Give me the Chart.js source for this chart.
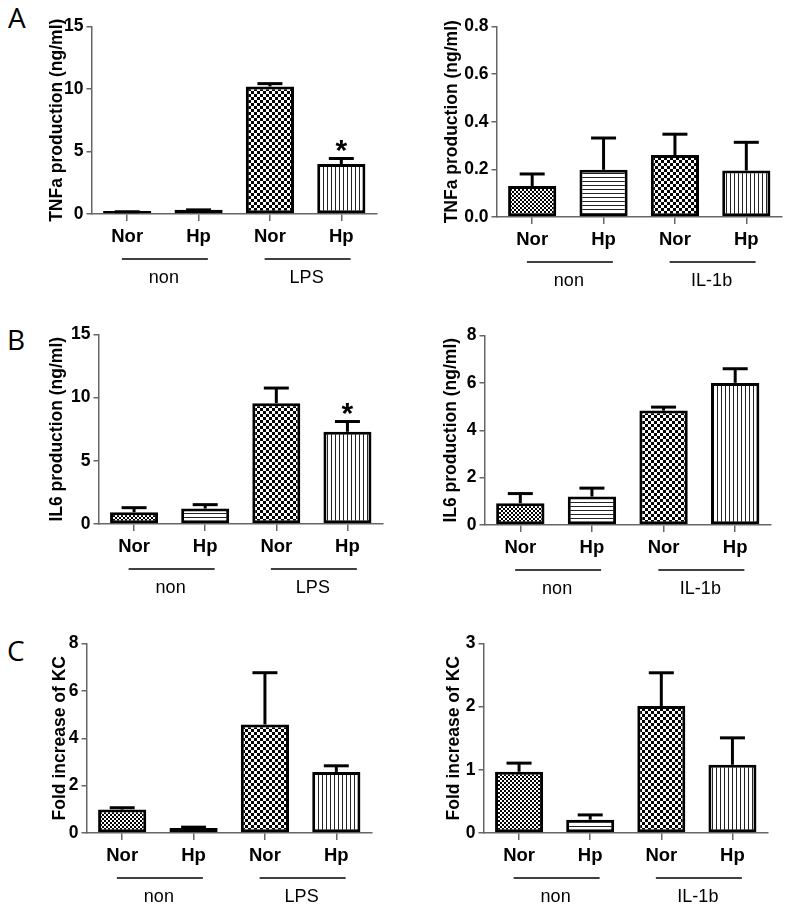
<!DOCTYPE html>
<html><head><meta charset="utf-8">
<script src="https://cdn.jsdelivr.net/npm/chart.js@4.4.0/dist/chart.umd.min.js"></script>
<style>
html,body{margin:0;padding:0;background:#fff}
body{width:788px;height:905px;position:relative;overflow:hidden}
.panel{position:absolute}
.panel canvas{display:block}
.letter{position:absolute;font-family:"Open Sans",sans-serif;font-size:28px;line-height:28px;color:#000}
</style></head><body>
<div class="letter" style="left:8px;top:3px">A</div>
<div class="letter" style="left:7px;top:325px">B</div>
<div class="letter" style="left:7px;top:636px">C</div>
<div class="panel" id="pA1"><canvas id="cA1"></canvas></div>
<div class="panel" id="pA2"><canvas id="cA2"></canvas></div>
<div class="panel" id="pB1"><canvas id="cB1"></canvas></div>
<div class="panel" id="pB2"><canvas id="cB2"></canvas></div>
<div class="panel" id="pC1"><canvas id="cC1"></canvas></div>
<div class="panel" id="pC2"><canvas id="cC2"></canvas></div>
<script>
// ---------- data ----------
const categories = ['Nor', 'Hp', 'Nor', 'Hp'];
const groupsLPS = ['non', 'LPS'];
const groupsIL1b = ['non', 'IL-1b'];

const tnfLpsMean  = [0.25, 0.35, 10.2, 4.0];
const tnfLpsSem   = [0.05, 0.1, 0.35, 0.56];
const tnfIl1bMean = [0.13, 0.198, 0.26, 0.195];
const tnfIl1bSem  = [0.057, 0.14, 0.094, 0.125];

const il6LpsMean  = [0.93, 1.22, 9.56, 7.3];
const il6LpsSem   = [0.48, 0.43, 1.32, 0.93];
const il6Il1bMean = [0.92, 1.2, 4.83, 6.0];
const il6Il1bSem  = [0.47, 0.42, 0.21, 0.66];

const kcLpsMean   = [0.99, 0.21, 4.58, 2.58];
const kcLpsSem    = [0.14, 0.1, 2.25, 0.32];
const kcIl1bMean  = [0.97, 0.21, 2.01, 1.08];
const kcIl1bSem   = [0.16, 0.1, 0.55, 0.45];

const tnfLpsTicks  = [0, 5, 10, 15];
const tnfIl1bTicks = [0, 0.2, 0.4, 0.6, 0.8];
const il6LpsTicks  = [0, 5, 10, 15];
const il6Il1bTicks = [0, 2, 4, 6, 8];
const kcLpsTicks   = [0, 2, 4, 6, 8];
const kcIl1bTicks  = [0, 1, 2, 3];

const titleTNF = 'TNFa production (ng/ml)';
const titleIL6 = 'IL6 production (ng/ml)';
const titleKC  = 'Fold increase of KC';
const starIndex = 3;

// ---------- patterns ----------
function makePattern(kind) {
  const c = document.createElement('canvas');
  const g = c.getContext('2d');
  if (kind === 'fine') {
    c.width = c.height = 4;
    g.fillStyle = '#fff'; g.fillRect(0, 0, 4, 4);
    g.fillStyle = '#000'; g.fillRect(0, 0, 2, 2); g.fillRect(2, 2, 2, 2);
  } else if (kind === 'check') {
    c.width = c.height = 6;
    g.fillStyle = '#fff'; g.fillRect(0, 0, 6, 6);
    g.fillStyle = '#000'; g.fillRect(0, 0, 3, 3); g.fillRect(3, 3, 3, 3);
  } else if (kind === 'hlines') {
    c.width = c.height = 4;
    g.fillStyle = '#fff'; g.fillRect(0, 0, 4, 4);
    g.fillStyle = '#222'; g.fillRect(0, 0, 4, 1);
  } else {
    c.width = c.height = 4;
    g.fillStyle = '#fff'; g.fillRect(0, 0, 4, 4);
    g.fillStyle = '#222'; g.fillRect(0, 0, 1, 4);
  }
  return g.createPattern(c, 'repeat');
}
const barFills = [makePattern('fine'), makePattern('hlines'), makePattern('check'), makePattern('vlines')];

const FONT = '"Liberation Sans", Arial, sans-serif';
const AXIS = '#666';

// ---------- plugin: error bars, group lines, asterisk ----------
const extras = {
  id: 'extras',
  afterDatasetsDraw(chart, args, opts) {
    const ctx = chart.ctx, y = chart.scales.y, x = chart.scales.x;
    const meta = chart.getDatasetMeta(0);
    const vals = chart.data.datasets[0].data;
    ctx.save();
    ctx.strokeStyle = '#000'; ctx.lineWidth = 3; ctx.lineCap = 'butt';
    meta.data.forEach((bar, i) => {
      const yBar = y.getPixelForValue(vals[i]);
      const yErr = y.getPixelForValue(vals[i] + opts.sem[i]) + 1.5;
      ctx.beginPath(); ctx.moveTo(bar.x, yBar); ctx.lineTo(bar.x, yErr); ctx.stroke();
      ctx.beginPath(); ctx.moveTo(bar.x - 12.5, yErr); ctx.lineTo(bar.x + 12.5, yErr); ctx.stroke();
    });
    if (opts.star) {
      const bar = meta.data[starIndex];
      const yErr = y.getPixelForValue(vals[starIndex] + opts.sem[starIndex]);
      ctx.fillStyle = '#000';
      ctx.font = 'bold 30px ' + FONT;
      ctx.textAlign = 'center'; ctx.textBaseline = 'middle';
      ctx.fillText('*', bar.x, yErr - 5);
    }
    // group lines + labels
    const base = chart.chartArea.bottom;
    ctx.lineWidth = 1.6; ctx.strokeStyle = '#000';
    ctx.fillStyle = '#000';
    ctx.font = '18px ' + FONT;
    ctx.textAlign = 'center'; ctx.textBaseline = 'middle';
    opts.groups.forEach((name, gi) => {
      const x1 = x.getPixelForValue(gi * 2), x2 = x.getPixelForValue(gi * 2 + 1);
      const mid = (x1 + x2) / 2 + 2;
      ctx.beginPath(); ctx.moveTo(mid - 43, base + 45); ctx.lineTo(mid + 43, base + 45); ctx.stroke();
      ctx.fillText(name, mid - 1, base + 64);
    });
    ctx.restore();
  }
};

function makeConfig(spec) {
  return {
    type: 'bar',
    data: {
      labels: categories,
      datasets: [{
        data: spec.mean,
        backgroundColor: barFills,
        borderColor: '#000',
        borderWidth: 3,
        borderSkipped: false,
        barPercentage: 0.675,
        categoryPercentage: 1
      }]
    },
    options: {
      responsive: false,
      maintainAspectRatio: false,
      animation: false,
      devicePixelRatio: 1,
      layout: { padding: { top: 4, right: 8, left: 0, bottom: 0 } },
      plugins: {
        legend: { display: false },
        tooltip: { enabled: false },
        extras: { sem: spec.sem, groups: spec.groups, star: spec.star }
      },
      scales: {
        x: {
          offset: true,
          grid: { offset: false, drawOnChartArea: false, tickLength: 7, color: AXIS, lineWidth: 1.5 },
          border: { display: true, color: AXIS, width: 1.5 },
          ticks: { color: '#000', font: { family: FONT, size: 18.5, weight: 'bold' }, padding: 5, maxRotation: 0, autoSkip: false },
          afterFit: s => { s.height = 92; }
        },
        y: {
          min: 0, max: spec.ticks[spec.ticks.length - 1],
          afterBuildTicks: s => { s.ticks = spec.ticks.map(v => ({ value: v })); },
          ticks: { color: '#000', font: { family: FONT, size: 17.5, weight: 'bold' }, padding: 3,
                   callback: v => spec.decimals ? Number(v).toFixed(spec.decimals) : String(v) },
          grid: { drawOnChartArea: false, tickLength: 5, color: AXIS, lineWidth: 1.5 },
          border: { display: true, color: AXIS, width: 1.5 },
          title: { display: true, text: spec.title, color: '#000',
                   font: { family: FONT, size: 17.5, weight: 'bold', lineHeight: 1.2 }, padding: { top: 0, bottom: 0 } },
          afterFit: s => { s.width = spec.yW; }
        }
      }
    },
    plugins: [extras]
  };
}

function build(spec) {
  spec.yW = spec.axisX - spec.titleCx + 10.5;
  const wrap = document.getElementById(spec.wrap);
  let cv = document.getElementById(spec.canvas);
  cv.width = 400; cv.height = 320;
  let probe = new Chart(cv, makeConfig(spec));
  const ca = probe.chartArea;
  const l = ca.left, t = ca.top, r = cv.width - ca.right, b = cv.height - ca.bottom;
  probe.destroy();
  const W = Math.round(spec.right - spec.axisX + l + r);
  const H = Math.round(spec.zero - spec.top + t + b);
  wrap.innerHTML = '';
  cv = document.createElement('canvas');
  cv.id = spec.canvas; cv.width = W; cv.height = H;
  cv.style.width = W + 'px'; cv.style.height = H + 'px';
  wrap.appendChild(cv);
  wrap.style.left = (spec.axisX - l) + 'px';
  wrap.style.top = (spec.top - t) + 'px';
  new Chart(cv, makeConfig(spec));
}

const layouts = [
  { wrap: 'pA1', canvas: 'cA1', mean: tnfLpsMean,  sem: tnfLpsSem,  ticks: tnfLpsTicks,  groups: groupsLPS,  title: titleTNF, star: true,
    axisX: 91,  top: 26,  zero: 213, right: 376, titleCx: 57 },
  { wrap: 'pA2', canvas: 'cA2', mean: tnfIl1bMean, sem: tnfIl1bSem, ticks: tnfIl1bTicks, groups: groupsIL1b, title: titleTNF, star: false, decimals: 1,
    axisX: 496, top: 26,  zero: 216, right: 781, titleCx: 452 },
  { wrap: 'pB1', canvas: 'cB1', mean: il6LpsMean,  sem: il6LpsSem,  ticks: il6LpsTicks,  groups: groupsLPS,  title: titleIL6, star: true,
    axisX: 98,  top: 334, zero: 523, right: 382, titleCx: 57 },
  { wrap: 'pB2', canvas: 'cB2', mean: il6Il1bMean, sem: il6Il1bSem, ticks: il6Il1bTicks, groups: groupsIL1b, title: titleIL6, star: false,
    axisX: 484, top: 335, zero: 524, right: 770, titleCx: 451 },
  { wrap: 'pC1', canvas: 'cC1', mean: kcLpsMean,   sem: kcLpsSem,   ticks: kcLpsTicks,   groups: groupsLPS,  title: titleKC, star: false,
    axisX: 86,  top: 643, zero: 832, right: 371, titleCx: 60 },
  { wrap: 'pC2', canvas: 'cC2', mean: kcIl1bMean,  sem: kcIl1bSem,  ticks: kcIl1bTicks,  groups: groupsIL1b, title: titleKC, star: false,
    axisX: 483, top: 643, zero: 832, right: 767, titleCx: 454 }
];
layouts.forEach(build);
</script>
</body></html>
